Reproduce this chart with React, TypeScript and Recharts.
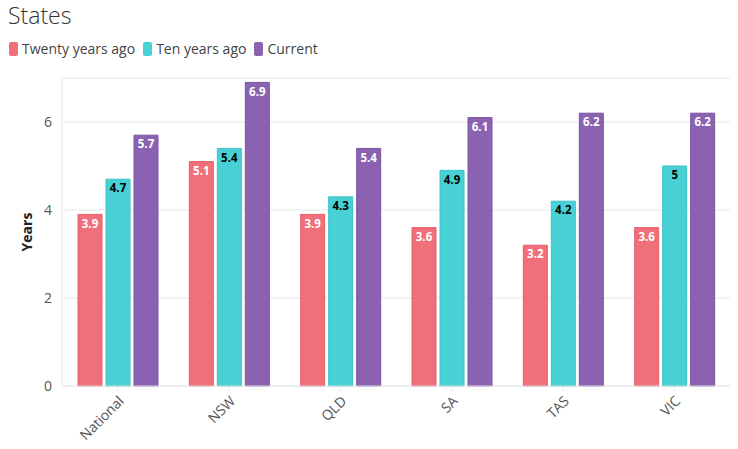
import { BarChart, Bar, XAxis, YAxis, CartesianGrid, LabelList } from 'recharts'

const categories = ['National', 'NSW', 'QLD', 'SA', 'TAS', 'VIC']
const twentyYearsAgo = [3.9, 5.1, 3.9, 3.6, 3.2, 3.6]
const tenYearsAgo = [4.7, 5.4, 4.3, 4.9, 4.2, 5]
const current = [5.7, 6.9, 5.4, 6.1, 6.2, 6.2]
const yTicks = [0, 2, 4, 6]

const FONT = '"Open Sans", "Noto Sans", sans-serif'
const COLOR_RED = '#EF6F7A'
const COLOR_TEAL = '#47D1D5'
const COLOR_PURPLE = '#8A62B1'
const COLOR_GRID = '#e6e6e6'
const COLOR_TICK = '#555'

const series = [
  { key: 'twenty', name: 'Twenty years ago', color: COLOR_RED, stroke: '#e2606b', label: '#fff' },
  { key: 'ten', name: 'Ten years ago', color: COLOR_TEAL, stroke: '#3cc2c6', label: '#000' },
  { key: 'current', name: 'Current', color: COLOR_PURPLE, stroke: '#7a54a0', label: '#fff' },
]

export default function App() {
  const data = categories.map((c, i) => ({
    name: c,
    twenty: twentyYearsAgo[i],
    ten: tenYearsAgo[i],
    current: current[i],
  }))

  return (
    <div style={{ position: 'relative', width: 738, height: 449, fontFamily: FONT, background: '#fff' }}>
      <style>{'body{margin:0}'}</style>
      <div style={{ position: 'absolute', left: 8, top: 0, fontSize: 23, fontWeight: 300, color: '#333', lineHeight: '30px' }}>
        States
      </div>
      <div style={{ position: 'absolute', left: 9, top: 39, display: 'flex', alignItems: 'center', fontSize: 14, color: '#444' }}>
        {series.map((s) => (
          <span key={s.key} style={{ display: 'flex', alignItems: 'center', marginRight: 8 }}>
            <i style={{ display: 'inline-block', width: 9, height: 14, borderRadius: 2, background: s.color, marginRight: 4 }} />
            {s.name}
          </span>
        ))}
      </div>
      <BarChart
        width={738}
        height={449}
        data={data}
        margin={{ top: 78, right: 8, left: 0, bottom: 0 }}
        barCategoryGap={16}
        barGap={4}
        style={{ position: 'absolute', left: 0, top: 0 }}
      >
        <CartesianGrid stroke={COLOR_GRID} vertical={false} />
        <XAxis
          dataKey="name"
          height={63}
          interval={0}
          angle={-45}
          textAnchor="end"
          tick={{ fontSize: 14, fill: COLOR_TICK, fontFamily: FONT }}
          tickLine={{ stroke: COLOR_GRID }}
          tickSize={5}
          tickMargin={4}
          axisLine={{ stroke: COLOR_GRID }}
        />
        <YAxis
          width={62}
          domain={[0, 7]}
          ticks={yTicks}
          tick={{ fontSize: 14, fill: COLOR_TICK, fontFamily: FONT }}
          tickLine={false}
          tickMargin={4}
          axisLine={{ stroke: COLOR_GRID }}
          label={{ value: 'Years', angle: -90, position: 'center', dx: -4, style: { fontSize: 14, fontWeight: 700, fill: '#222', fontFamily: FONT } }}
        />
        {series.map((s) => (
          <Bar key={s.key} dataKey={s.key} name={s.name} fill={s.color} stroke={s.stroke} strokeWidth={1} barSize={24} isAnimationActive={false}>
            <LabelList dataKey={s.key} position="insideTop" offset={5} fill={s.label} style={{ fontSize: 11.5, fontWeight: 700, fontFamily: FONT }} />
          </Bar>
        ))}
      </BarChart>
    </div>
  )
}
